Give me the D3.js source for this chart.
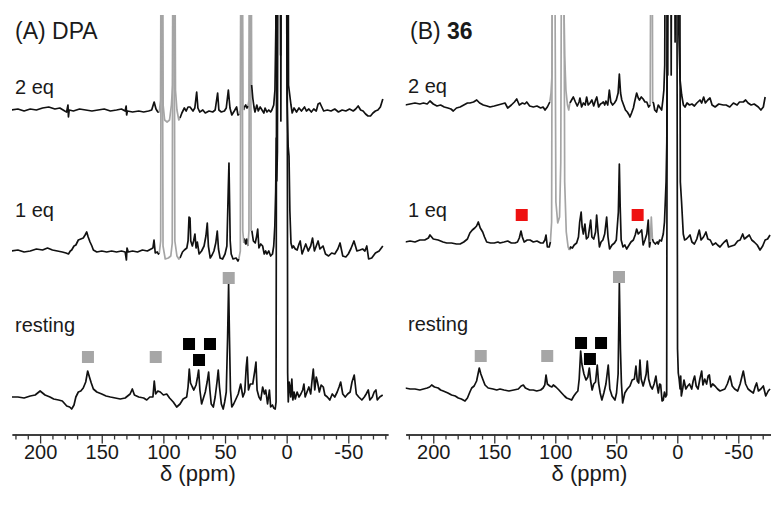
<!DOCTYPE html>
<html>
<head>
<meta charset="utf-8">
<script src="https://cdn.jsdelivr.net/npm/d3@7"></script>
<style>
  body { margin: 0; background: #fff; }
  svg { display: block; font-family: "Liberation Sans", Arial, sans-serif; }
</style>
</head>
<body>
<svg id="chart" width="771" height="510"></svg>
<script>
// ---- data: [ppm, intensity above trace baseline] ----
const dpa2eq = [[223,0],[218,1],[213,-1],[208,1],[203,0],[198,2],[193,3],[188,1],[184,2],[180,-1],[178.5,-2],[177.4,5],[177,-7],[176.4,0],[173,-1],[168,1],[163,0],[158,-1],[153,0],[148,1],[143,-1],[138,0],[134,1],[131,-1],[130.2,4],[129.8,-5],[129.2,-1],[125,-2],[120,-1],[116,-2],[112,-1],[109.5,0],[107.5,8],[106,1],[104.5,-2],
  [103.3,-2],[102.3,10],[101.6,300],[101.0,300],[100.2,5],[99,-10],[97,-12],[95,-10],[93.5,5],[92.5,25],[91.8,300],[91.0,300],[90.2,20],[89,0],[87.5,-10],[86.5,-8],
  [85,-3],[83,2],[81.5,-1],[80,3],[78.4,3],[76,-1],[74.5,2],[73,18],[72,2],[70.5,-2],[68,0],[66,-3],[63,-1],[60,-2],[58,0],[56,17],[55,0],[53,-2],[50.5,-1],[49,2],[47.3,20],[46,2],[44.5,-5],[42.5,-1],[40.6,3],[39.5,-5],[38.5,-4],
  [37.5,0],[36.9,300],[36.3,300],[35.5,5],[34.8,0],[34.2,3],[33.2,5],[32.2,2],[31.4,4],[30.5,10],[29.6,300],[29.0,300],[28.4,25],[27.5,12],[26.5,3],[25.7,-2],[24.2,5],[23,-1],[21.5,3],[20,0],[18.5,-3],[17.5,2],[16,-2],[14.5,0],[13,-2],[12,0],
  [10.5,5],[9.5,20],[8.8,80],[8.3,300],[5.2,300],[4.9,55],[4.6,300],[-1.0,300],[-1.5,25],[-2.5,15],[-3.5,5],[-4.5,-3],[-6,2],[-8,-2],[-10,2],[-12,-1],[-14.5,3],[-16,-1],[-18,1],[-20,-2],[-22,1],[-24,-1],[-25.5,6],[-27,7],[-28.5,3],[-30,-1],[-33,0],[-36,-1],[-39,1],[-42,-2],[-45,0],[-48,-1],[-51,1],[-54,-1],[-56,1],[-58,4],[-60,0],[-62,-1],[-64,-4],[-66,-6],[-68,-6],[-70,-3],[-72,-1],[-74,0],[-76,3],[-78,11]];

const dpa1eq = [[223,0],[218,1],[213,-1],[208,0],[203,2],[198,1],[194,3],[190,1],[186,0],[182,-1],[179,-2],[177,-3],[175.5,0],[174.4,1],[172.5,5],[171,6],[169,11],[167,12],[165,13],[163.5,16],[162.2,19],[161,14],[159.5,9],[158,5],[156.8,1],[154,-1],[150,0],[146,-1],[142,0],[138,-1],[134,0],[131,-1],[130,-9],[129.5,3],[128.5,-1],[125,0],[121,-1],[117,1],[113,0],[110,2],[108.5,3],[107.6,11],[106.6,-2],[105,-1],[104,-3],
  [103.3,-2],[102.2,10],[101.7,420],[101.1,420],[100.3,5],[98.5,-8],[96,-7],[94,-5],[92.8,8],[92.2,420],[91.5,420],[90.7,10],[89,-5],[87.5,-8],
  [86.5,-7],[84.5,-1],[83,1],[81,3],[80,10],[79.2,34],[78.4,33],[77.8,10],[76.5,5],[75.5,10],[74.4,17],[73.5,3],[72.5,9],[71,-3],[69,0],[67,5],[65.5,15],[64.4,28],[63.5,5],[62,-7],[60.5,-4],[59,0],[57.5,8],[56.3,20],[55.3,2],[54,-7],[52,-8],[50,-3],[48.5,5],[47.4,60],[46.8,88],[46.3,50],[45.8,10],[45,-3],[43.5,-8],[41,-7],[39.5,-10],[38.8,-8],
  [37.6,0],[36.9,420],[36.3,420],[35.6,20],[34.8,8],[34.2,12],[33.2,7],[32.3,12],[31.4,5],[30.6,20],[30.0,420],[29.4,420],[28.8,20],[28.2,20],[27,10],[25.5,8],[24.3,15],[23.5,22],[22.5,3],[21,7],[19.5,5],[18.2,-3],[17,0],[16,-3],[14.5,0],[13,-5],[11.5,-3],
  [10.5,5],[9.6,25],[8.9,60],[8.4,113],[8.0,70],[7.5,100],[6.9,420],[5.1,420],[4.7,130],[4.3,420],[0.4,420],[-0.3,150],[-1.2,105],[-1.9,95],[-2.6,40],[-3.5,8],[-4.5,3],[-5.5,5],[-7,2],[-8.5,1],[-10,7],[-11,10],[-12.5,-3],[-14,2],[-15.5,7],[-17.5,0],[-19.5,5],[-21,13],[-22.5,0],[-24,5],[-25.5,10],[-27,2],[-29.5,5],[-31.5,-3],[-34,-5],[-36.5,-2],[-39,-3],[-41.5,2],[-43.3,8],[-45.5,-5],[-48,-6],[-50,-3],[-52,2],[-54.6,10],[-57,0],[-59.5,1],[-61.6,2],[-63.5,0],[-65,5],[-66.5,-8],[-69,-7],[-72,-2],[-75,0],[-78,5]];

const dpaResting = [[223,0],[218,0],[213,-1],[208,1],[204,2],[200,6],[196,2],[192,0],[189,-2],[185,-3],[182,-4],[178.4,-9],[176,-10],[174.4,-12],[172.5,-8],[171,0],[169,5],[167,6],[165,9],[163,15],[161.4,26],[160,20],[158.5,14],[156.8,8],[154,5],[150,3],[146.5,1],[143,0],[139,-1],[135,-2],[131,-1],[127,3],[125.2,8],[123.5,2],[120,0],[116,-1],[113.5,-3],[111,0],[108.5,0],[107.4,16],[106.3,3],[104.5,6],[102.5,5],[100,2],[97.3,3],[95,-1],[92,-5],[89.2,-10],[86.5,-7],[84,-2],[81.1,0],
  [80,10],[79,28],[78,14],[76.5,10],[75.3,7],[73.5,12],[72.3,20],[71.4,27],[70.4,7],[69,-7],[67.5,-1],[66,5],[64.5,15],[63.3,25],[62.3,7],[61.2,-7],[59.5,-10],[58,0],[56.5,15],[55.5,27],[54.5,10],[53,-7],[51.5,-12],[50.3,-5],[49,5],[47.9,60],[47.1,113],[46.4,60],[45.6,7],[44.5,-10],[43,-7],[41.5,-3],[39.3,3],[37.3,13],[35.5,0],[34,5],[32.8,30],[32,40],[31,7],[29.5,13],[27.5,13],[26,25],[24.9,35],[24,7],[22.5,0],[21,-3],[19.5,10],[18,3],[17,7],[15.5,-7],[14,7],[13,-10],[11.5,-8],[10.5,-11],[9.3,-12],[8.6,-5],
  [8.1,420],[-0.4,420],[-0.8,24],[-1.3,-5],[-2,15],[-2.7,10],[-3.3,0],[-4.2,18],[-5,-3],[-6,5],[-7,-2],[-8.5,5],[-10,0],[-11.5,3],[-13,7],[-14,13],[-15,0],[-16.5,5],[-18,10],[-19.5,3],[-20.7,18],[-21.6,28],[-22.8,7],[-24,20],[-25,15],[-26.5,5],[-28,12],[-29.7,10],[-31,2],[-33,0],[-35,-3],[-37,3],[-39,0],[-41,5],[-42.5,10],[-43.8,15],[-45.5,3],[-47.5,0],[-49.5,3],[-51.5,5],[-53,15],[-54.8,22],[-56.5,3],[-58.5,0],[-61,-3],[-63,0],[-64.5,3],[-66.2,7],[-67.5,-3],[-69.5,0],[-71,5],[-72.4,7],[-73.5,-3],[-75.5,0],[-77.9,2]];

const c36_2eq = [[223,0],[219,1],[215,2],[211,1],[208,2],[205,1],[202.7,4],[200,1],[197,-1],[194,0],[191,-2],[188,-3],[185.5,-4],[183.6,-6],[181,-3],[178,-2],[175,0],[172,2],[170,2],[167,3],[164.4,5],[162,2],[159,0],[156,-1],[153.5,-2],[150,-1],[147,0],[144,1],[141.2,2],[139,-3],[136,0],[133.5,3],[131.6,6],[129.5,0],[127,2],[125,1],[123.4,3],[121,-1],[118,-2],[115,-1],[112,-3],[110,-2],[108.4,-5],[106.5,-2],[104.5,3],[103.5,12],
  [102.7,30],[102,300],[100,300],[99.5,230],[99,300],[94,300],[93.2,120],[92.3,50],[91.3,15],[90,0],[89,-5],
  [88,2],[86.6,5],[85.2,8],[83.5,3],[82,-1],[80.5,3],[79.8,7],[78.4,-2],[77,2],[75.5,0],[74.3,8],[73,0],[71.5,2],[70,5],[68.5,-1],[67,5],[66,8],[64.5,-2],[63,1],[61.5,2],[60.6,3],[59.5,0],[58.5,4],[57,0],[55.7,15],[54.5,3],[53,0],[51.5,2],[50,5],[48.5,12],[47.5,31],[46.5,12],[45.5,5],[44,0],[42.5,-5],[41,-7],[39.5,-10],[38.8,-12],[37.5,-8],[36,-3],[35,3],[33.3,12],[32,7],[31,5],[29.5,8],[28,6],[26.5,3],[25,3],[23.5,-2],[22.2,0],
  [21.4,300],[20.8,300],[20.2,3],[19.5,2],[18.5,-5],[17,-7],[15.6,0],[14,-3],[12.8,-5],[11.8,5],[11,15],[10.3,40],[9.6,300],[8.3,300],[7.8,30],[7.3,300],[5.6,300],[5.0,30],[4.5,300],[-0.6,300],[-1.3,70],[-2.3,25],[-3.6,10],[-5,0],[-6.3,-2],[-8,2],[-10,0],[-12,1],[-14,-1],[-16,2],[-18.6,5],[-20,2],[-21.6,8],[-23,2],[-25,5],[-26.8,7],[-28.5,0],[-31,-2],[-34,1],[-37.7,0],[-40,0],[-43,-2],[-46,2],[-49,0],[-51,3],[-54.1,3],[-56,5],[-58,2],[-60.5,0],[-63,1],[-66.4,-2],[-68.5,-5],[-70.5,-2],[-72,8]];

const c36_1eq = [[223,0],[219,1],[215,0],[211,2],[207,2],[204,4],[202.7,7],[200,3],[196,2],[192,0],[189,-1],[185,-1],[181,-2],[178,-2],[175,0],[172,3],[170,9],[168,12],[166,14],[164.5,16],[163.1,20],[161.5,14],[159.5,10],[158,5],[156.2,0],[153,-1],[150,-1],[147,0],[145.3,-1],[142,0],[139,1],[136,-1],[133,-1],[131,0],[129.5,4],[128.1,11],[127,5],[125.5,0],[123,2],[120.7,2],[118,0],[115,1],[112,-1],[110,-1],[108.5,2],[107.6,7],[106.5,-5],[105,-5],
  [104,0],[103,20],[102.2,420],[100.8,420],[99.5,40],[98,19],[96.5,25],[95.5,80],[94.6,420],[93.2,420],[92.3,60],[91,10],[89.5,-5],[88.5,-8],
  [87.5,-5],[86,-6],[84.5,-3],[82.5,-1],[81,5],[80,20],[78.8,30],[78,15],[77,8],[75.7,18],[74.5,3],[73,5],[71,22],[70,5],[68.5,3],[67,10],[66.1,27],[65,10],[63.8,-5],[62.5,0],[61,2],[59.5,8],[57.9,25],[56.8,5],[55.5,-7],[53.5,-3],[51.5,-1],[50,2],[48.3,30],[47.5,78],[46.8,35],[46,2],[44.5,-5],[43,-3],[41.5,-7],[40,-4],[38,0],[36,2],[34.5,7],[33.3,13],[32,8],[30.5,10],[29.2,12],[28,-3],[26.5,2],[25,8],[23.8,22],[22.8,-5],
  [22.1,0],[21.3,25],[20.4,3],[19.5,0],[18,-2],[16.5,0],[15.6,-2],[14.5,2],[13,1],[11.5,8],[10.5,20],[9.2,60],[8.6,100],[7.8,420],[2.6,420],[1.8,200],[1.1,420],[-1.8,420],[-2.5,60],[-3.5,40],[-4.9,8],[-6,2],[-7.5,3],[-9,5],[-10.4,7],[-12,0],[-14,-2],[-16,3],[-18,12],[-19.5,2],[-21.5,5],[-23.5,10],[-25,3],[-27,2],[-29,-3],[-31.5,-1],[-33,-3],[-35,-5],[-37,-2],[-38.5,0],[-40.5,2],[-42,-5],[-44.5,-4],[-47,-3],[-49.5,1],[-51.5,2],[-53.6,8],[-55,3],[-57,5],[-59,7],[-61,2],[-63,0],[-65.5,-3],[-67.8,-8],[-70,-4],[-72,2],[-74,3],[-76,7]];

const c36Resting = [[223,1],[219,0],[215,0],[211,-1],[208,0],[205,1],[203,2],[201.3,4],[199,2],[196,1],[194,-1],[191.8,-2],[188,-4],[185,-6],[182,-7],[179.5,-9],[177,-10],[174,-12],[172,-9],[170,-3],[168.5,1],[166.5,3],[164.5,8],[162.3,21],[161,15],[159.5,10],[157.6,4],[155,1],[151,0],[148,-1],[145.3,0],[142,-1],[138,-2],[134,-1],[130.3,0],[128,3],[126.2,4],[124.5,1],[121,-1],[118,-1],[115.2,-2],[112,-1],[110,1],[108.6,4],[107.6,14],[106.5,5],[104.5,3],[102.8,2],[101.6,4],[99.5,2],[97,-1],[94.8,-4],[92.5,-7],[90.7,-9],[88.5,-10],[86.6,-11],[84.8,-7],[83,-4],[81.5,-2],
  [80.4,10],[79.2,38],[78.2,25],[76.5,15],[74.8,9],[73.3,12],[72.1,21],[71,8],[69.8,-1],[68.5,5],[67,7],[65.6,24],[64.5,6],[63.2,-4],[61.8,-11],[60.2,-4],[58.5,5],[56.6,24],[55.3,0],[53.5,-7],[51.1,-11],[49.8,-4],[48.5,15],[47.5,106],[46.6,40],[45.8,6],[44.8,-14],[43,-4],[41,0],[38.8,3],[37,9],[35.2,10],[33.9,23],[32.8,8],[31.6,6],[30.6,29],[29.6,10],[28,3],[26.7,9],[25.5,15],[24.6,28],[23.5,10],[22,3],[20.5,0],[19,5],[17.5,13],[16.5,3],[15.5,-4],[14.5,5],[13.6,4],[12.5,-12],[11.5,-11],[10.5,-3],[9.5,-8],[8.7,-6],
  [8.2,420],[0.3,420],[-0.2,40],[-0.8,16],[-1.5,10],[-2.3,0],[-2.8,13],[-3.3,-7],[-4.5,1],[-5.5,9],[-7,0],[-8.5,3],[-10,5],[-11.8,0],[-13,8],[-14.2,13],[-15.5,3],[-17,0],[-18.5,10],[-20,18],[-21,4],[-22.5,10],[-24,5],[-25.3,13],[-26.3,14],[-27.5,2],[-29,5],[-30.9,3],[-33,0],[-35,-2],[-37,-1],[-39,0],[-41,5],[-43.2,13],[-45,3],[-47,0],[-49.5,-2],[-51.5,5],[-54.1,18],[-56,5],[-58,0],[-60,-2],[-62.3,-4],[-64,3],[-65,6],[-66.5,-2],[-68.5,0],[-70.5,3],[-72.5,-7],[-74.5,-2],[-76,0]];

// ppm ranges drawn in grey on the 1 eq / 2 eq traces (free-ligand signals)
const dpaGray = [[103.5, 86.8], [38.2, 34.6], [31.0, 28.6]];
const c36Gray = [[104.2, 88.2], [22.3, 20.0]];

// stacking offsets of the three traces (same units as intensity)
const traceNames = ["resting", "1 eq", "2 eq"];
const grayOn = [false, true, true];
const dpaOffsets = [0, 146, 287];
const c36Offsets = [8, 155, 292];

// markers: ppm, level
const dpaGrayMarks = [[161.2, 40], [106.2, 40], [47.0, 119]];
const dpaBlackMarks = [[79.2, 53], [62.2, 53], [71.1, 37]];
const c36GrayMarks = [[161.1, 41], [106.6, 41], [47.8, 120]];
const c36BlackMarks = [[78.9, 54], [62.5, 54], [71.6, 38]];
const c36RedMarks = [[127.5, 182], [32.5, 182]];

const majorTicks = [200, 150, 100, 50, 0, -50];
const minorTicks = [220, 210, 190, 180, 170, 160, 140, 130, 120, 110, 90, 80, 70, 60, 40, 30, 20, 10, -10, -20, -30, -40, -60, -70, -80];

// ---- layout ----
const svg = d3.select("#chart");
const yTop = 15, yAxis = 434.5;
const y = d3.scaleLinear().domain([-37, 382]).range([434, 15]);

const panels = [
  { key: "A", x0: 12, x1: 388, domain: [222.8, -82.2], traces: [dpaResting, dpa1eq, dpa2eq], offsets: dpaOffsets,
    gray: dpaGray, grayMarks: dpaGrayMarks, blackMarks: dpaBlackMarks, redMarks: [],
    labelX: 15, labelY: [332, 217, 94], titleX: 15, titleBold: "", titleText: "(A) DPA", minorEnd: -80 },
  { key: "B", x0: 405.7, x1: 771, domain: [222.6, -76.8], traces: [c36Resting, c36_1eq, c36_2eq], offsets: c36Offsets,
    gray: c36Gray, grayMarks: c36GrayMarks, blackMarks: c36BlackMarks, redMarks: c36RedMarks,
    labelX: 408, labelY: [331, 217, 93], titleX: 410, titleBold: "36", titleText: "(B) ", minorEnd: -70 }
];

// split a trace into runs of black / grey segments
function segments(pts, grayRanges) {
  const isGray = (a, b) => {
    const m = (a[0] + b[0]) / 2;
    return grayRanges.some(r => m <= r[0] && m >= r[1]);
  };
  const segs = [];
  let cur = null;
  for (let i = 1; i < pts.length; i++) {
    const g = isGray(pts[i - 1], pts[i]);
    if (!cur || cur.gray !== g) {
      cur = { gray: g, pts: [pts[i - 1]] };
      segs.push(cur);
    }
    cur.pts.push(pts[i]);
  }
  return segs;
}

panels.forEach(p => {
  const x = d3.scaleLinear().domain(p.domain).range([p.x0, p.x1]);
  const g = svg.append("g");

  g.append("clipPath").attr("id", "clip" + p.key)
    .append("rect")
    .attr("x", p.x0).attr("y", yTop)
    .attr("width", p.x1 - p.x0).attr("height", yAxis - yTop);

  const plot = g.append("g").attr("clip-path", `url(#clip${p.key})`);

  p.traces.forEach((trace, i) => {
    const off = p.offsets[i];
    const line = d3.line().x(d => x(d[0])).y(d => y(off + d[1]));
    const segs = segments(trace, grayOn[i] ? p.gray : []);
    // black first, grey on top
    plot.selectAll(null)
      .data(segs.filter(s => !s.gray).concat(segs.filter(s => s.gray)))
      .enter()
      .append("path")
      .attr("d", s => line(s.pts))
      .attr("fill", "none")
      .attr("stroke", s => s.gray ? "#a5a5a5" : "#111")
      .attr("stroke-width", 1.7)
      .attr("stroke-linejoin", "round");
  });

  // trace labels
  g.selectAll("text.trace-label")
    .data(traceNames)
    .enter()
    .append("text")
    .attr("class", "trace-label")
    .attr("x", p.labelX)
    .attr("y", (d, i) => p.labelY[i])
    .attr("font-size", "20px")
    .attr("fill", "#1a1a1a")
    .text(d => d);

  // title
  const title = g.append("text")
    .attr("x", p.titleX).attr("y", 39)
    .attr("font-size", "23px")
    .attr("fill", "#1a1a1a");
  title.append("tspan").text(p.titleText);
  if (p.titleBold) title.append("tspan").attr("font-weight", "bold").text(p.titleBold);

  // markers
  const size = 12;
  const markSets = [[p.grayMarks, "#a6a6a6"], [p.blackMarks, "#000"], [p.redMarks, "#ee1111"]];
  markSets.forEach(([marks, color]) => {
    g.selectAll(null)
      .data(marks)
      .enter()
      .append("rect")
      .attr("x", d => x(d[0]) - size / 2)
      .attr("y", d => y(d[1]) - size / 2)
      .attr("width", size)
      .attr("height", size)
      .attr("fill", color);
  });

  // axis: minor ticks, then major ticks with labels
  const minorAxis = d3.axisBottom(x)
    .tickValues(minorTicks.filter(t => t >= p.minorEnd))
    .tickSize(5).tickSizeOuter(0).tickFormat("");
  const majorAxis = d3.axisBottom(x)
    .tickValues(majorTicks)
    .tickSize(9).tickSizeOuter(0).tickPadding(1)
    .tickFormat(d => String(d));

  const ax1 = g.append("g").attr("transform", `translate(0,${yAxis})`).call(minorAxis);
  const ax2 = g.append("g").attr("transform", `translate(0,${yAxis})`).call(majorAxis);
  [ax1, ax2].forEach(a => {
    a.select(".domain").attr("stroke", "#333").attr("stroke-width", 1.5);
    a.selectAll(".tick line").attr("stroke", "#333").attr("stroke-width", 1.3);
  });
  ax2.selectAll(".tick text")
    .attr("font-size", "20px")
    .attr("font-family", "Liberation Sans, Arial, sans-serif")
    .attr("fill", "#1a1a1a");

  // axis title, centred under the 50-100 ppm span as in the figure
  g.append("text")
    .attr("x", x(72)).attr("y", 481)
    .attr("text-anchor", "middle")
    .attr("font-size", "22px")
    .attr("fill", "#1a1a1a")
    .text("δ (ppm)");
});
</script>
</body>
</html>
